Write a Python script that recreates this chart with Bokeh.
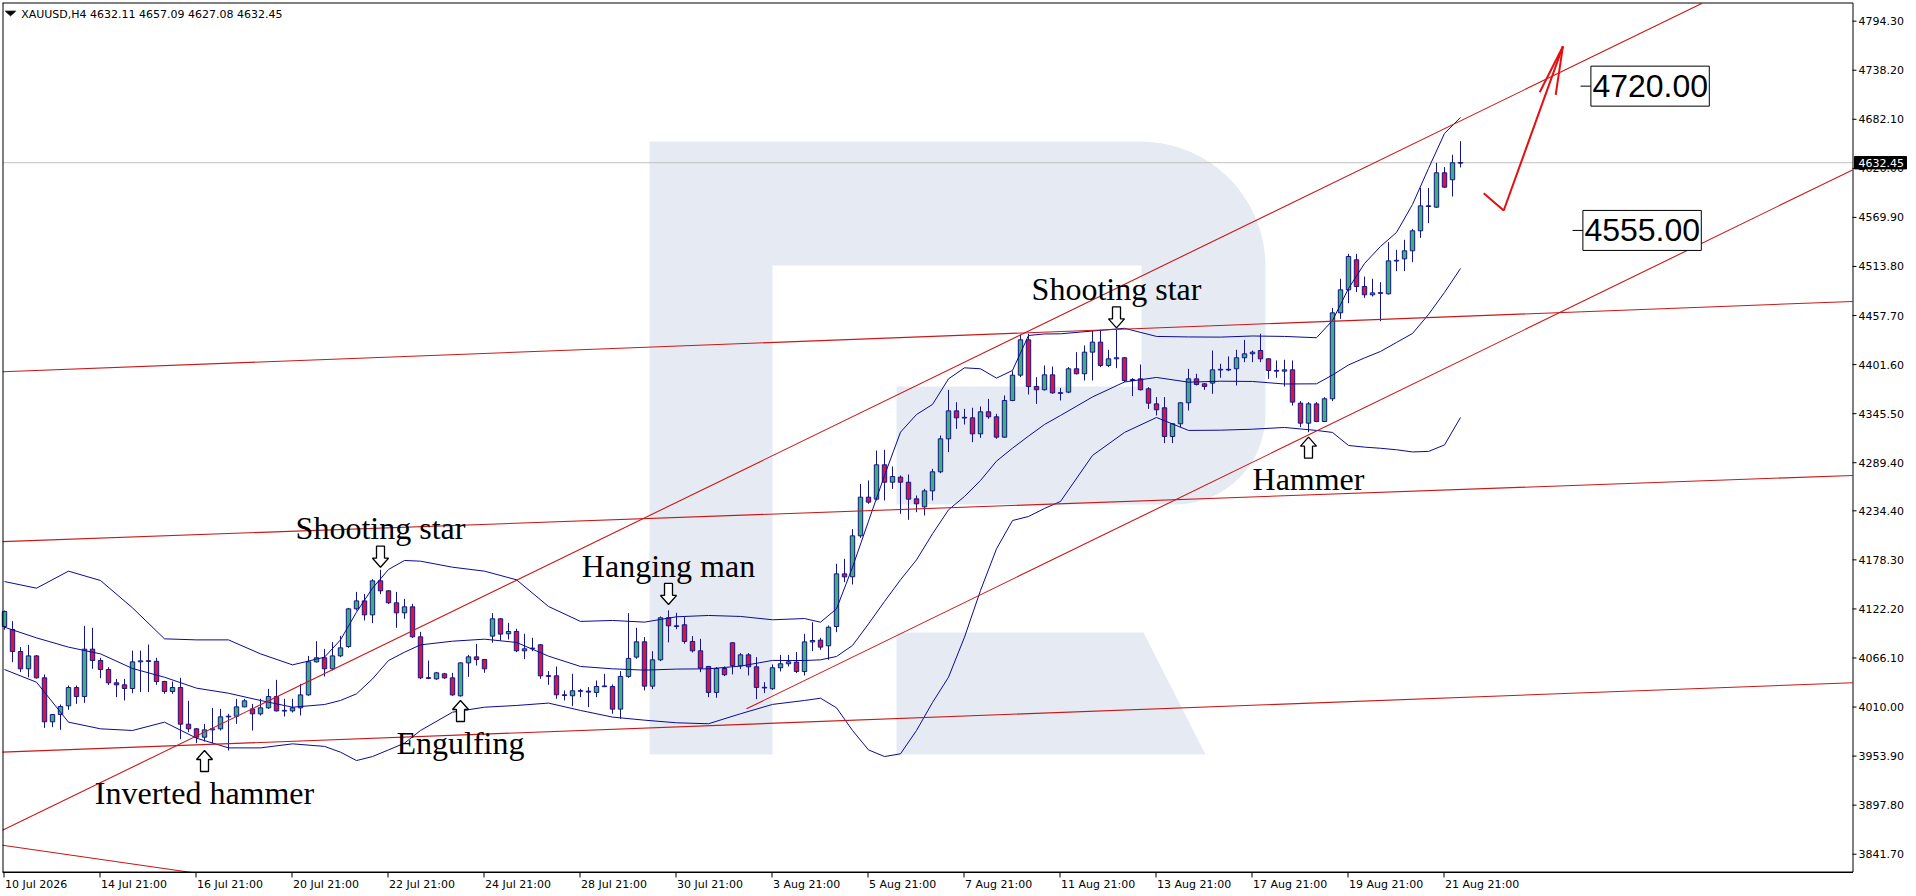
import numpy as np
from bokeh.plotting import figure
from bokeh.models import Range1d, ColumnDataSource
from bokeh.embed import file_html
from bokeh.resources import INLINE
from bokeh.core.properties import value

# ------------------------------------------------------------------ data
symbol_title = "XAUUSD,H4  4632.11 4657.09 4627.08 4632.45"

opens = [4102.1, 4098.7, 4073.5, 4053.7, 4068.5, 4043.4, 3993.1, 4001.4, 4011.4, 4032.3,
         4022.0, 4076.2, 4063.2, 4052.9, 4037.7, 4035.4, 4031.2, 4061.7, 4062.8, 4062.3,
         4039.2, 4027.8, 4032.3, 3990.4, 3985.1, 3975.5, 3983.9, 3985.1, 3998.8, 3999.5,
         4010.2, 4007.9, 4002.2, 4009.1, 4022.0, 4005.6, 4005.6, 4009.1, 4023.9, 4061.7,
         4066.3, 4053.7, 4068.5, 4079.2, 4122.3, 4131.4, 4115.4, 4154.3, 4142.9, 4129.2,
         4117.7, 4124.6, 4090.3, 4043.4, 4042.2, 4048.0, 4043.4, 4022.8, 4060.5, 4067.4,
         4064.4, 4091.1, 4110.9, 4093.8, 4096.4, 4074.3, 4076.6, 4081.2, 4045.7, 4045.7,
         4024.0, 4022.9, 4028.6, 4028.2, 4026.7, 4033.5, 4033.5, 4007.6, 4045.0, 4067.1,
         4084.6, 4033.9, 4064.0, 4112.1, 4102.9, 4104.1, 4085.0, 4074.3, 4056.4, 4026.7,
         4054.1, 4083.5, 4057.2, 4069.7, 4056.0, 4032.4, 4030.9, 4054.9, 4059.5, 4061.4,
         4050.6, 4084.5, 4086.5, 4080.0, 4102.1, 4162.3, 4158.9, 4205.8, 4250.0, 4247.7,
         4287.0, 4267.1, 4272.9, 4267.1, 4248.1, 4238.9, 4257.2, 4279.0, 4316.7, 4348.7,
         4340.7, 4340.7, 4322.4, 4347.6, 4341.9, 4318.6, 4360.5, 4389.5, 4429.9, 4376.6,
         4372.8, 4389.9, 4369.3, 4370.1, 4396.8, 4391.1, 4415.8, 4427.3, 4400.6, 4408.2,
         4409.4, 4383.4, 4385.3, 4373.9, 4356.7, 4352.2, 4319.4, 4333.9, 4357.9, 4385.3,
         4379.6, 4380.4, 4395.6, 4396.0, 4396.8, 4409.4, 4413.9, 4417.7, 4408.2, 4394.9,
         4394.1, 4395.6, 4357.5, 4334.6, 4356.7, 4336.5, 4362.5, 4460.8, 4487.1, 4521.4,
         4490.9, 4481.4, 4483.6, 4482.5, 4520.2, 4522.5, 4531.7, 4554.6, 4583.1, 4581.6,
         4620.9, 4612.9, 4632.11]
highs = [4120.4, 4108.2, 4078.5, 4081.1, 4069.5, 4047.2, 4002.0, 4012.9, 4034.6, 4034.6,
         4102.8, 4100.6, 4066.3, 4055.6, 4042.2, 4042.2, 4074.6, 4074.6, 4081.5, 4066.3,
         4040.0, 4039.2, 4043.4, 4017.1, 3986.0, 3990.8, 4009.1, 4007.9, 4002.2, 4019.4,
         4019.4, 4013.6, 4019.4, 4030.8, 4041.1, 4019.4, 4019.4, 4036.5, 4068.5, 4085.3,
         4076.5, 4084.2, 4091.4, 4123.4, 4141.7, 4139.4, 4156.2, 4166.9, 4143.5, 4141.7,
         4133.7, 4128.0, 4096.0, 4063.2, 4050.2, 4049.1, 4049.1, 4061.0, 4069.7, 4082.3,
         4065.0, 4117.4, 4111.5, 4106.3, 4099.5, 4093.8, 4089.2, 4081.8, 4051.1, 4056.4,
         4029.0, 4048.0, 4030.9, 4032.8, 4040.4, 4048.0, 4035.8, 4051.1, 4117.4, 4100.6,
         4090.0, 4073.9, 4113.6, 4120.5, 4117.8, 4112.8, 4091.1, 4088.0, 4057.0, 4055.6,
         4056.4, 4084.0, 4071.7, 4071.7, 4067.1, 4038.5, 4058.7, 4069.7, 4069.7, 4072.8,
         4093.7, 4107.0, 4089.1, 4103.2, 4173.8, 4179.5, 4213.4, 4265.2, 4269.1, 4303.4,
         4304.1, 4285.1, 4274.8, 4275.9, 4251.9, 4259.5, 4282.4, 4320.5, 4372.7, 4358.6,
         4351.0, 4352.2, 4353.7, 4362.4, 4345.3, 4366.3, 4394.1, 4435.6, 4436.8, 4387.2,
         4400.6, 4399.4, 4375.0, 4398.7, 4415.8, 4423.5, 4440.6, 4440.6, 4418.5, 4441.4,
         4410.0, 4386.1, 4401.7, 4375.8, 4364.4, 4364.4, 4334.5, 4358.7, 4396.8, 4391.1,
         4380.4, 4417.7, 4402.5, 4410.9, 4418.5, 4429.9, 4417.7, 4436.8, 4408.8, 4406.3,
         4407.1, 4406.3, 4359.8, 4358.7, 4358.7, 4364.4, 4466.5, 4499.7, 4528.2, 4528.2,
         4502.3, 4499.7, 4495.8, 4541.6, 4532.8, 4544.3, 4556.8, 4603.7, 4603.7, 4632.3,
         4627.4, 4641.5, 4657.09]
lows = [4098.3, 4061.3, 4049.9, 4044.1, 4042.6, 3986.2, 3987.0, 3983.9, 4006.8, 4013.6,
        4014.8, 4053.7, 4043.0, 4035.4, 4021.3, 4017.5, 4025.8, 4027.0, 4027.0, 4035.4,
        4025.1, 4025.1, 3973.2, 3981.2, 3968.7, 3970.6, 3968.7, 3983.2, 3960.3, 3990.8,
        4009.8, 3983.2, 4000.3, 4007.9, 4004.9, 3999.2, 4003.7, 4000.3, 4022.8, 4060.9,
        4044.9, 4051.8, 4067.0, 4077.7, 4120.4, 4109.0, 4105.9, 4139.1, 4128.0, 4100.6,
        4110.9, 4089.1, 4041.9, 4041.9, 4041.1, 4042.2, 4022.8, 4022.0, 4044.5, 4057.5,
        4049.2, 4083.5, 4086.1, 4087.3, 4072.8, 4064.8, 4073.9, 4042.3, 4035.4, 4019.4,
        4017.5, 4011.0, 4021.3, 4009.9, 4021.3, 4032.8, 4002.3, 3996.6, 4043.4, 4065.2,
        4029.0, 4030.5, 4062.5, 4083.9, 4099.1, 4082.3, 4072.4, 4049.9, 4021.3, 4020.6,
        4045.4, 4047.3, 4053.4, 4046.1, 4019.0, 4025.9, 4029.7, 4050.7, 4056.4, 4048.8,
        4046.0, 4073.9, 4075.4, 4064.0, 4095.6, 4152.8, 4150.1, 4203.5, 4242.4, 4246.2,
        4246.2, 4259.5, 4230.9, 4224.1, 4232.8, 4229.0, 4246.2, 4277.4, 4301.5, 4328.1,
        4333.1, 4312.9, 4317.8, 4339.6, 4316.7, 4317.8, 4359.8, 4387.2, 4367.4, 4356.7,
        4372.0, 4368.2, 4360.6, 4368.9, 4390.3, 4383.4, 4383.4, 4398.7, 4398.7, 4397.5,
        4381.5, 4365.5, 4372.0, 4351.0, 4343.4, 4311.8, 4311.8, 4330.1, 4349.1, 4377.7,
        4372.8, 4368.2, 4386.5, 4394.1, 4377.7, 4404.4, 4404.4, 4404.4, 4385.3, 4386.5,
        4376.6, 4354.8, 4330.1, 4324.3, 4335.8, 4335.8, 4359.8, 4453.9, 4471.8, 4484.4,
        4477.9, 4479.5, 4451.2, 4481.7, 4508.4, 4508.4, 4518.7, 4546.5, 4563.3, 4580.9,
        4603.7, 4593.8, 4627.08]
closes = [4119.2, 4073.5, 4053.7, 4068.5, 4043.4, 3993.1, 4001.4, 4010.6, 4032.3, 4022.0,
          4076.2, 4063.2, 4052.9, 4037.7, 4035.4, 4031.2, 4061.7, 4062.8, 4062.3, 4039.2,
          4027.8, 4032.3, 3990.4, 3985.1, 3975.5, 3983.9, 3985.1, 3998.8, 3999.5, 4010.2,
          4017.1, 4002.2, 4009.1, 4022.0, 4005.6, 4006.0, 4009.1, 4023.9, 4061.7, 4066.3,
          4053.7, 4068.5, 4077.7, 4122.3, 4131.4, 4115.4, 4154.3, 4142.9, 4129.2, 4117.7,
          4124.6, 4090.3, 4043.4, 4043.0, 4049.1, 4043.4, 4023.9, 4060.5, 4067.4, 4064.3,
          4053.7, 4110.9, 4093.4, 4096.4, 4074.3, 4076.6, 4077.4, 4045.7, 4045.3, 4024.0,
          4023.2, 4028.6, 4028.2, 4027.1, 4033.5, 4033.9, 4007.6, 4045.0, 4065.6, 4084.6,
          4033.9, 4064.0, 4112.1, 4102.9, 4102.1, 4085.0, 4074.3, 4054.5, 4026.7, 4054.1,
          4046.9, 4057.2, 4069.7, 4056.0, 4032.4, 4032.0, 4054.9, 4059.5, 4061.7, 4050.7,
          4084.5, 4086.1, 4078.5, 4101.3, 4162.3, 4158.9, 4205.8, 4250.0, 4244.3, 4287.0,
          4267.1, 4273.6, 4267.1, 4247.7, 4242.4, 4257.2, 4279.0, 4316.7, 4348.7, 4340.7,
          4341.1, 4322.4, 4347.6, 4341.9, 4318.6, 4360.5, 4389.5, 4429.9, 4376.5, 4372.8,
          4389.9, 4369.3, 4368.9, 4396.8, 4391.1, 4415.8, 4427.3, 4400.6, 4408.2, 4409.4,
          4383.4, 4384.6, 4372.8, 4357.5, 4349.9, 4319.4, 4333.9, 4357.9, 4385.3, 4378.9,
          4376.6, 4395.6, 4396.0, 4395.6, 4409.4, 4413.9, 4415.8, 4408.2, 4394.9, 4394.1,
          4395.6, 4358.7, 4334.6, 4356.7, 4336.5, 4362.5, 4460.8, 4487.1, 4525.2, 4490.9,
          4481.4, 4483.6, 4483.3, 4520.2, 4520.6, 4531.7, 4554.6, 4583.1, 4582.4, 4620.9,
          4604.5, 4632.3, 4632.45]

date_tick_bars = [0, 12, 24, 36, 48, 60, 72, 84, 96, 108, 120, 132, 144, 156, 168, 180]
date_tick_labels = ["10 Jul 2026", "14 Jul 21:00", "16 Jul 21:00", "20 Jul 21:00",
                    "22 Jul 21:00", "24 Jul 21:00", "28 Jul 21:00", "30 Jul 21:00",
                    "3 Aug 21:00", "5 Aug 21:00", "7 Aug 21:00", "11 Aug 21:00",
                    "13 Aug 21:00", "17 Aug 21:00", "19 Aug 21:00", "21 Aug 21:00"]

price_ticks = [4794.30, 4738.20, 4682.10, 4626.00, 4569.90, 4513.80, 4457.70, 4401.60,
               4345.50, 4289.40, 4234.40, 4178.30, 4122.20, 4066.10, 4010.00, 3953.90,
               3897.80, 3841.70]
last_price = 4632.45

bb_bars = [0, 4, 8, 12, 16, 20, 24, 28, 32, 36,
           40, 42, 44, 46, 48, 50, 52, 56, 60,
           64, 68, 72, 76, 80, 84, 88, 92, 96,
           100, 102, 104, 106, 108, 110, 112, 114, 116, 118, 120, 122, 124, 126, 128, 130, 132,
           136, 140, 144, 148, 152, 156, 160, 164,
           166, 168, 170, 172, 174, 176, 178, 180, 182]
bb_upper = [4153.5, 4145.9, 4165.4, 4154.7, 4123.4, 4088.0, 4086.8, 4086.8, 4070.8, 4058.2,
            4067.0, 4086.8, 4118.5, 4145.9, 4167.3, 4177.6, 4176.8, 4169.9, 4165.4,
            4155.5, 4125.0, 4107.9, 4109.0, 4107.1, 4113.2, 4114.7, 4113.6, 4109.8,
            4111.2, 4107.0, 4122.3, 4169.9, 4222.5, 4274.8, 4324.3, 4344.5, 4356.0, 4385.3,
            4397.9, 4396.8, 4386.1, 4394.9, 4434.9, 4436.6, 4436.8,
            4440.0, 4443.1, 4433.8, 4433.2, 4433.0, 4434.3, 4433.8, 4432.3,
            4452.0, 4488.6, 4517.2, 4536.7, 4552.7, 4584.7, 4625.9, 4665.9, 4684.2]
bb_middle = [4101.3, 4089.1, 4078.5, 4070.8, 4054.1, 4044.1, 4031.6, 4025.8, 4017.5, 4009.8,
             4012.9, 4017.5, 4025.1, 4042.2, 4063.2, 4072.7, 4081.1, 4085.3, 4087.6,
             4083.9, 4068.2, 4056.4, 4053.7, 4052.2, 4053.4, 4053.7, 4056.8, 4063.3,
             4063.2, 4064.0, 4067.8, 4080.4, 4105.1, 4130.7, 4155.5, 4178.3, 4208.1, 4235.5,
             4250.8, 4269.1, 4291.2, 4306.0, 4319.8, 4333.1, 4343.4,
             4364.6, 4381.7, 4386.9, 4381.5, 4382.6, 4382.3, 4379.4, 4379.6,
             4389.7, 4401.2, 4409.2, 4416.6, 4426.9, 4437.2, 4458.9, 4484.1, 4511.5]
bb_lower = [4052.9, 4038.4, 3992.7, 3985.1, 3983.2, 3992.7, 3974.4, 3963.3, 3963.3, 3967.9,
            3965.0, 3958.4, 3948.8, 3953.4, 3961.0, 3968.7, 3983.2, 4004.1, 4009.8,
            4011.8, 4014.5, 4006.1, 3998.5, 3995.0, 3992.0, 3990.9, 4002.3, 4013.0,
            4017.5, 4020.1, 4009.1, 3983.2, 3961.0, 3953.4, 3956.5, 3983.2, 4015.2, 4044.1,
            4089.9, 4143.3, 4190.9, 4223.3, 4227.9, 4237.1, 4245.1,
            4297.7, 4324.0, 4341.1, 4326.3, 4326.6, 4327.7, 4329.7, 4326.3,
            4324.0, 4309.1, 4307.2, 4305.9, 4304.2, 4301.7, 4302.3, 4309.7, 4341.1]

# red trend / channel lines (bar index, price)
trend_x0 = [-0.25, 92.75, -0.25, -0.25, -0.25, -0.25]
trend_y0 = [3869.0, 4008.0, 4393.4, 4199.2, 3958.4, 3851.9]
trend_x1 = [215.0, 231.0, 231.0, 231.0, 231.0, 23.4]
trend_y1 = [4827.2, 4624.2, 4473.8, 4274.8, 4037.8, 3820.8]

# forecast arrow
forecast_x = [184.9, 187.4, 194.8]
forecast_y = [4597.6, 4577.8, 4765.4]
forecast_head_x = [191.9, 193.9]
forecast_head_y = [4713.1, 4710.1]

# target levels
level_values = [4720.0, 4555.0]
level_texts = ["4720.00", "4555.00"]
level_tick_start = [197.0, 196.0]
level_box_left = [198.3, 197.3]
level_box_right = [213.1, 212.1]

# candle pattern annotations
pattern_names = ["Inverted hammer", "Shooting star", "Engulfing", "Hanging man",
                 "Shooting star", "Hammer"]
pattern_bars = [25, 47, 57, 83, 139, 163]
pattern_dirs = [1, -1, 1, -1, -1, 1]          # 1 = arrow up below low, -1 = arrow down above high
pattern_tips = [3960.3, 4169.9, 4017.5, 4127.3, 4443.5, 4318.6]

# ------------------------------------------------------------------ geometry
BAR_PX = 8.0
PPX = 1.1435             # price units per pixel
Y_TOP = 4814.5           # price at the top border of the chart
W, H = 1916, 896


def bx(xp):              # pixel x -> bar index
    return (xp - 4.0) / BAR_PX


def py(yp):              # pixel y -> price
    return Y_TOP - (yp - 3.0) * PPX


X_L, X_R = bx(2), bx(1852)      # chart frame
P_B = py(872)

BULL = "#3cb371"
BEAR = "#dc143c"
OUTL = "#14148c"
BBC = "#0a0a94"
RED = "#c81818"
WM = "#e6ebf3"

p = figure(frame_width=W, frame_height=H,
           x_range=Range1d(bx(0), bx(W)), y_range=Range1d(py(H), py(0)),
           output_backend="svg", toolbar_location=None,
           x_axis_location=None, y_axis_location=None,
           min_border_left=0, min_border_top=0, min_border_right=0, min_border_bottom=0)
p.grid.visible = False
p.background_fill_color = "white"
p.border_fill_color = "white"
p.outline_line_color = None


def clip(x0, y0, x1, y1):
    """clip a segment to the chart frame"""
    t0, t1 = 0.0, 1.0
    dx, dy = x1 - x0, y1 - y0
    for pp, qq in ((-dx, x0 - X_L), (dx, X_R - x0), (-dy, y0 - P_B), (dy, Y_TOP - y0)):
        if pp == 0:
            continue
        r = qq / pp
        if pp < 0:
            t0 = max(t0, r)
        else:
            t1 = min(t1, r)
    return x0 + t0 * dx, y0 + t0 * dy, x0 + t1 * dx, y0 + t1 * dy


# ---- watermark (R logo)
def arc(cx, cy, r, a0, a1, n=20):
    t = np.radians(np.linspace(a0, a1, n))
    return list(zip(cx + r * np.cos(t), cy - r * np.sin(t)))


outer = [(649, 141)] + arc(1140, 266, 125, 90, 0) + arc(1175, 414, 90, 0, -90) + \
        [(896, 504), (896, 386), (1141, 386), (1141, 265), (772, 265), (772, 754), (649, 754)]
leg = [(896, 632), (1143, 632), (1205, 754), (896, 754)]
p.patches([[bx(a) for a, b in poly] for poly in (outer, leg)],
          [[py(b) for a, b in poly] for poly in (outer, leg)],
          fill_color=WM, line_color=None)

# ---- current price line
p.segment(x0=[X_L], y0=[last_price], x1=[X_R], y1=[last_price], line_color="#c0c0c0",
          line_width=1)

# ---- candles
o = np.array(opens); h = np.array(highs); l = np.array(lows); c = np.array(closes)
idx = np.arange(len(o))
top = np.maximum(o, c)
bot = np.minimum(o, c)
small = (top - bot) < 0.8
mid = (top + bot) / 2
top = np.where(small, mid + 0.4, top)
bot = np.where(small, mid - 0.4, bot)
csrc = ColumnDataSource(dict(x=idx, top=top, bottom=bot, high=h, low=l,
                             color=np.where(c >= o, BULL, BEAR)))
p.segment(x0="x", y0="high", x1="x", y1="low", source=csrc, line_color=OUTL, line_width=1)
p.vbar(x="x", width=0.55, top="top", bottom="bottom", source=csrc,
       fill_color="color", line_color=OUTL, line_width=1)

# ---- Bollinger bands
for band in (bb_upper, bb_middle, bb_lower):
    p.line(bb_bars, band, line_color=BBC, line_width=1)

# ---- red lines (clipped to the chart frame)
segs = [clip(*s) for s in zip(trend_x0, trend_y0, trend_x1, trend_y1)]
p.segment(x0=[s[0] for s in segs], y0=[s[1] for s in segs],
          x1=[s[2] for s in segs], y1=[s[3] for s in segs], line_color=RED, line_width=1.1)

# ---- forecast arrow
p.line(forecast_x, forecast_y, line_color="#e50f0f", line_width=2)
p.segment(x0=[forecast_x[-1]] * 2, y0=[forecast_y[-1]] * 2, x1=forecast_head_x,
          y1=forecast_head_y, line_color="#e50f0f", line_width=2)

# ---- target level boxes
p.segment(x0=level_tick_start, y0=level_values, x1=level_box_left, y1=level_values,
          line_color="black", line_width=1)
p.quad(left=level_box_left, right=level_box_right,
       top=[v + 20 * PPX for v in level_values], bottom=[v - 20 * PPX for v in level_values],
       fill_color="white", line_color="black", line_width=1)
p.text(x=[b + 1.5 / BAR_PX for b in level_box_left], y=level_values, text=level_texts,
       text_font=value("Liberation Sans"), text_font_size="32px", text_color="black",
       text_align="left", text_baseline="middle")

# ---- pattern arrows + names (text centred vertically on its middle line)
shape = [(0, 0), (8, 9), (4, 9), (4, 21), (-4, 21), (-4, 9), (-8, 9)]
ar_xs, ar_ys, tx, ty = [], [], [], []
for b, d, tip in zip(pattern_bars, pattern_dirs, pattern_tips):
    ar_xs.append([b + sx / BAR_PX for sx, sy in shape])
    ar_ys.append([tip - d * sy * PPX for sx, sy in shape])
    tx.append(b)
    ty.append(tip + 38.8 * PPX if d < 0 else tip - 42.2 * PPX)
p.patches(ar_xs, ar_ys, fill_color="white", line_color="black", line_width=1.3)
p.text(x=tx, y=ty, text=pattern_names, text_font=value("Liberation Serif"),
       text_font_size="32px", text_align="center", text_baseline="middle",
       text_color="black")

# ---- title
p.patch([bx(5), bx(15), bx(10)], [py(10.7), py(10.7), py(15.3)],
        fill_color="black", line_color="black")
p.text(x=[bx(20.7)], y=[py(13.5)], text=[symbol_title], text_font=value("DejaVu Sans"),
       text_font_size="11px", text_color="black", text_align="left",
       text_baseline="middle")

# ---- frame and axes (drawn by hand)
p.segment(x0=[bx(2.5), bx(2.5), bx(2), bx(1852.5)],
          y0=[py(2.5), P_B, py(871.5), py(871.5)],
          x1=[bx(2.5), bx(1852.5), bx(1852.5), bx(1852.5)],
          y1=[P_B, P_B, py(871.5), py(2.5)],
          line_color="black", line_width=1)
p.segment(x0=[bx(2)], y0=[py(2.5)], x1=[bx(1852.5)], y1=[py(2.5)],
          line_color="black", line_width=1)
# price axis
p.segment(x0=[bx(1852)] * len(price_ticks), y0=price_ticks,
          x1=[bx(1856)] * len(price_ticks), y1=price_ticks, line_color="black", line_width=1)
p.text(x=[bx(1858)] * len(price_ticks), y=price_ticks,
       text=["%.2f" % v for v in price_ticks], text_font=value("DejaVu Sans"),
       text_font_size="11px", text_color="black", text_align="left", text_baseline="middle")
# current price tag
p.quad(left=[bx(1854)], right=[bx(1906)], top=[last_price + 6.2 * PPX],
       bottom=[last_price - 6.2 * PPX], fill_color="black", line_color="black")
p.text(x=[bx(1858)], y=[last_price], text=["%.2f" % last_price],
       text_font=value("DejaVu Sans"), text_font_size="11px", text_color="white",
       text_align="left", text_baseline="middle")
# time axis
p.segment(x0=[b - 0.5 / BAR_PX for b in date_tick_bars], y0=[P_B] * len(date_tick_bars),
          x1=[b - 0.5 / BAR_PX for b in date_tick_bars], y1=[py(877)] * len(date_tick_bars),
          line_color="black", line_width=1)
p.text(x=[b + 0.5 / BAR_PX for b in date_tick_bars], y=[py(884)] * len(date_tick_bars),
       text=date_tick_labels, text_font=value("DejaVu Sans"), text_font_size="11px",
       text_color="black", text_align="left", text_baseline="middle")

open("out.html", "w").write(file_html(p, INLINE))
